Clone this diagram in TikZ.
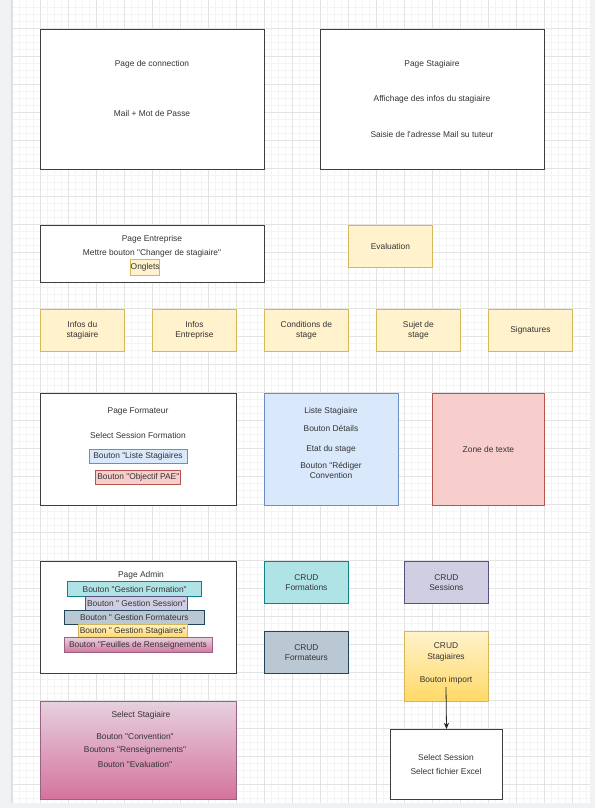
\documentclass[tikz,border=0pt]{standalone}
\usepackage{fontspec}
\newfontfamily\diafont{Liberation Sans}
\usetikzlibrary{arrows.meta}

% palette
\definecolor{canvasbg}{HTML}{F1F2F4}
\definecolor{edgeline}{HTML}{DADCE0}
\definecolor{gridminor}{HTML}{F4F4F4}
\definecolor{gridmajor}{HTML}{E3E3E3}
\definecolor{textc}{HTML}{333333}
\definecolor{framec}{HTML}{3E3E3E}
\definecolor{yfill}{HTML}{FFF2CC}
\definecolor{ydark}{HTML}{FFD966}
\definecolor{yline}{HTML}{D6B656}
\definecolor{bfill}{HTML}{DAE8FC}
\definecolor{bline}{HTML}{6C8EBF}
\definecolor{rfill}{HTML}{F8CECC}
\definecolor{rline}{HTML}{B85450}
\definecolor{tfill}{HTML}{B0E3E6}
\definecolor{tline}{HTML}{0E8088}
\definecolor{pfill}{HTML}{D0CEE2}
\definecolor{pline}{HTML}{56517E}
\definecolor{gfill}{HTML}{BAC8D3}
\definecolor{gline}{HTML}{23445D}
\definecolor{mfill}{HTML}{E6D0DE}
\definecolor{mdark}{HTML}{D5739D}
\definecolor{mline}{HTML}{996185}

\begin{document}
\begin{tikzpicture}[x=1pt,y=-1pt,
  txt/.style={font=\diafont\fontsize{8.4}{10.3}\selectfont, text=textc, inner sep=0pt, align=center},
  panel/.style={draw=framec, line width=1pt, fill=white, anchor=north west, inner sep=0pt},
  card/.style={txt, line width=0.8pt, anchor=north west},
  btn/.style={txt, line width=0.8pt, anchor=center},
  yellowc/.style={draw=yline, fill=yfill},
  yellowg/.style={draw=yline, top color=yfill, bottom color=ydark},
  bluec/.style={draw=bline, fill=bfill},
  redc/.style={draw=rline, fill=rfill},
  tealc/.style={draw=tline, fill=tfill},
  purplec/.style={draw=pline, fill=pfill},
  slatec/.style={draw=gline, fill=gfill},
  pinkg/.style={draw=mline, top color=mfill, bottom color=mdark},
  link/.style={draw=black!85, line width=0.8pt, -{Stealth[length=6pt,width=5pt,inset=1.5pt]}}
]
\useasboundingbox (0,0) rectangle (595,808);

% canvas and grid
\fill[canvasbg] (0,0) rectangle (595,808);
\fill[white] (11,0) rectangle (590,803);
\foreach \x in {12,19,...,589} \draw[gridminor, line width=0.5pt] (\x,0) -- (\x,803);
\foreach \y in {7,14,...,802} \draw[gridminor, line width=0.5pt] (11,\y) -- (590,\y);
\foreach \x in {12,40,...,589} \draw[gridmajor, line width=0.6pt] (\x,0) -- (\x,803);
\foreach \y in {28,56,...,802} \draw[gridmajor, line width=0.6pt] (11,\y) -- (590,\y);
\draw[edgeline, line width=0.8pt] (11,0) -- (11,803);

% login page
\node[panel, minimum width=224, minimum height=140] (conn) at (40,29) {};
\node[txt] (connT) at (152,64) {Page de connection};
\node[txt] (connM) at (152,113) {Mail + Mot de Passe};

% trainee page
\node[panel, minimum width=224, minimum height=140] (stag) at (320,29) {};
\node[txt] (stagT) at (432,64) {Page Stagiaire};
\node[txt] (stagA) at (432,99) {Affichage des infos du stagiaire};
\node[txt] (stagS) at (432,134) {Saisie de l'adresse Mail su tuteur};

% company page
\node[panel, minimum width=224, minimum height=57] (ent) at (40,225) {};
\node[txt] (entT) at (152,239) {Page Entreprise};
\node[txt] (entM) at (152,253) {Mettre bouton "Changer de stagiaire"};
\node[btn, yellowc, minimum width=29, minimum height=15.5] (ong) at (145.2,267.2) {Onglets};

\node[card, yellowc, minimum width=84, minimum height=42] (eval) at (348,225) {Evaluation};

% tabs
\node[card, yellowc, minimum width=84, minimum height=42] (tab1) at (40,309) {Infos du\\stagiaire};
\node[card, yellowc, minimum width=84, minimum height=42] (tab2) at (152,309) {Infos\\Entreprise};
\node[card, yellowc, minimum width=84, minimum height=42] (tab3) at (264,309) {Conditions de\\stage};
\node[card, yellowc, minimum width=84, minimum height=42] (tab4) at (376,309) {Sujet de\\stage};
\node[card, yellowc, minimum width=84, minimum height=42] (tab5) at (488,309) {Signatures};

% trainer page
\node[panel, minimum width=196, minimum height=112] (form) at (40,393) {};
\node[txt] (formT) at (138,411) {Page Formateur};
\node[txt] (formS) at (138,435) {Select Session Formation};
\node[btn, bluec, minimum width=98, minimum height=14.4] (formL) at (138,456.5) {Bouton "Liste Stagiaires};
\node[btn, redc, minimum width=85, minimum height=14] (formP) at (138.3,477.3) {Bouton "Objectif PAE"};

\node[card, bluec, minimum width=133.5, minimum height=112] (liste) at (264,393) {};
\node[txt] (listeT) at (331,411) {Liste Stagiaire};
\node[txt] (listeD) at (331,428) {Bouton Détails};
\node[txt] (listeE) at (331,449) {Etat du stage};
\node[txt] (listeR) at (331,470.2) {Bouton "Rédiger\\Convention};

\node[card, redc, minimum width=112, minimum height=112] (zone) at (432,393) {Zone de texte};

% admin page
\node[panel, minimum width=196, minimum height=112] (adm) at (40,561) {};
\node[txt] (admT) at (141,575) {Page Admin};
\node[btn, tealc, minimum width=134, minimum height=15] (admF) at (134.7,589.2) {Bouton "Gestion Formation"};
\node[btn, purplec, minimum width=102, minimum height=13.7] (admS) at (136.3,603.2) {Bouton " Gestion Session"};
\node[btn, slatec, minimum width=140.7, minimum height=14.3] (admR) at (134.3,617.2) {Bouton " Gestion Formateurs};
\node[btn, yellowg, minimum width=109, minimum height=13.4] (admG) at (132.8,631) {Bouton " Gestion Stagiaires"};
\node[btn, pinkg, minimum width=148, minimum height=15] (admX) at (138,645.2) {Bouton "Feuilles de Renseignements};

% CRUD screens
\node[card, tealc, minimum width=84, minimum height=42] (crudF) at (264,561) {CRUD\\Formations};
\node[card, purplec, minimum width=84, minimum height=42] (crudS) at (404,561) {CRUD\\Sessions};
\node[card, slatec, minimum width=84, minimum height=42] (crudR) at (264,631) {CRUD\\Formateurs};
\node[card, yellowg, minimum width=84, minimum height=70] (crudG) at (404,631) {};
\node[txt] (crudGT) at (446,652) {CRUD\\Stagiaires};
\node[txt] (crudGI) at (446,680) {Bouton import};

% import dialog
\node[panel, minimum width=112, minimum height=70] (imp) at (390,729) {};
\node[txt] (impS) at (446,757) {Select Session};
\node[txt] (impF) at (446,771) {Select fichier Excel};

\coordinate (impStart) at (446,687);
\draw[link] (impStart) -- (imp.north);

% trainee selection
\node[card, pinkg, minimum width=196, minimum height=98] (sel) at (40,701) {};
\node[txt] (selT) at (141,715) {Select Stagiaire};
\node[txt] (selC) at (135,736.5) {Bouton "Convention"};
\node[txt] (selR) at (135,750) {Boutons "Renseignements"};
\node[txt] (selE) at (135,764) {Bouton "Evaluation"};
\end{tikzpicture}
\end{document}
